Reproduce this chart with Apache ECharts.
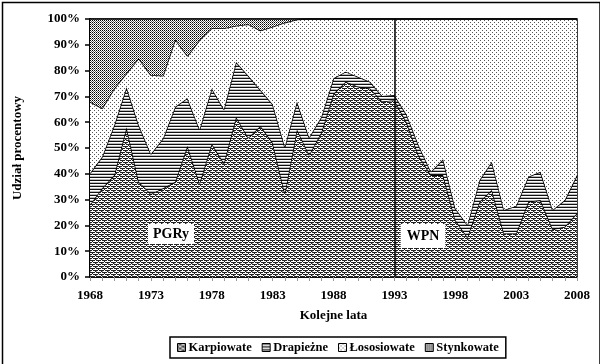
<!DOCTYPE html>
<html><head><meta charset="utf-8">
<script src="https://cdn.jsdelivr.net/npm/echarts@6/dist/echarts.min.js"></script>
<style>html,body{margin:0;padding:0;background:#fff}#c{width:600px;height:364px}</style>
</head><body><div id="c"></div>
<script>
const years = ['1968','1969','1970','1971','1972','1973','1974','1975','1976','1977',
  '1978','1979','1980','1981','1982','1983','1984','1985','1986','1987',
  '1988','1989','1990','1991','1992','1993','1994','1995','1996','1997',
  '1998','1999','2000','2001','2002','2003','2004','2005','2006','2007','2008'];
const karpiowate = [28,34.4,39.5,58,36.9,32.2,34.4,36.9,50.8,36.3,
  51.6,44.1,62,54,58.5,52,32.4,57.2,47.3,56,
  71,75.7,73.8,73.1,68,68.5,60,47,39.5,39.5,
  22.1,15.4,29.2,33.7,16.9,16.9,29.2,29.8,18.5,19.5,24.7];
const drapiezne = [12.2,12.2,19.4,15.5,22,15.5,19.3,29.1,18.5,20.9,
  21.5,20.9,21.3,24,14,15,18.1,10.8,6.8,6,
  6,3.9,3.8,2.6,2.2,2,3,4,1.3,6.1,
  4.5,4.8,8.4,11,9.1,10.6,9.7,11,7.5,10.3,14.8];
const lososiowate = [27.7,18.8,14.2,5.5,25.9,30.6,24.3,26.1,16.4,34.7,
  23.3,31.4,14.1,20,23,30,48.1,31.8,45.9,38,
  23,20.4,22.4,24.3,29.8,29.5,37,49,59.2,54.4,
  73.4,79.8,62.4,55.3,74,72.5,61.1,59.2,74,70.2,60.5];
const stynkowate = [32.1,34.6,26.9,21,15.2,21.7,22,7.9,14.3,8.1,
  3.6,3.6,2.6,2,4.5,3,1.4,0.2,0,0,
  0,0,0,0,0,0,0,0,0,0,
  0,0,0,0,0,0,0,0,0,0,0];
const seriesNames = ['Karpiowate','Drapieżne','Łososiowate','Stynkowate'];
const yTicks = [0,10,20,30,40,50,60,70,80,90,100];
const periodYear = '1993';
const periodLabels = ['PGRy','WPN'];

function pat(w,h,draw){
  const c=document.createElement('canvas');c.width=w;c.height=h;
  const g=c.getContext('2d');g.fillStyle='#fff';g.fillRect(0,0,w,h);draw(g);
  return {image:c,repeat:'repeat'};
}
const pKarp = pat(6,4,g=>{g.fillStyle='#222';g.fillRect(0,0,5,1);g.fillRect(3,2,3,1);g.fillRect(0,2,2,1);g.fillRect(2,1,1,1);g.fillRect(5,3,1,1);g.fillStyle='#999';g.fillRect(0,3,1,1);});
const pDrap = pat(1,3,g=>{g.fillStyle='#111';g.fillRect(0,0,1,1);g.fillStyle='#bbb';g.fillRect(0,2,1,1);});
const pLos = pat(4,4,g=>{g.fillStyle='#555';g.fillRect(0,0,1,1);g.fillRect(2,2,1,1);});
const pStyn = pat(4,2,g=>{g.fillStyle='#000';g.fillRect(0,0,1,1);g.fillRect(2,0,1,1);g.fillStyle='#666';g.fillRect(1,1,1,1);g.fillRect(3,1,1,1);});
const pats=[pKarp,pDrap,pLos,pStyn];
const vals=[karpiowate,drapiezne,lososiowate,stynkowate];

const font='"Liberation Serif", "Times New Roman", serif';
const chart=echarts.init(document.getElementById('c'),null,{renderer:'canvas'});
const series=seriesNames.map((n,i)=>({
  name:n,type:'line',stack:'total',data:vals[i],showSymbol:false,symbol:'none',
  color:pats[i],
  lineStyle:{color:'#000',width:1.6},
  areaStyle:{color:pats[i],opacity:1},
  emphasis:{disabled:true},z:2+i
}));
series[3].markLine={silent:true,symbol:['none','none'],label:{show:false},
  lineStyle:{color:'#000',width:1.5,type:'solid'},data:[{xAxis:periodYear}],z:10};
chart.setOption({
  animation:false,
  textStyle:{fontFamily:font,fontWeight:'bold',color:'#000'},
  grid:{left:90,right:23,top:19,bottom:87,show:true,borderColor:'#000',borderWidth:1.5,backgroundColor:'transparent'},
  legend:{data:seriesNames.map((n,i)=>({name:n,icon:'rect',itemStyle:{color:pats[i],borderColor:'#000',borderWidth:1}})),
    left:170,top:337,width:400,itemWidth:8,itemHeight:8,itemGap:10,padding:[4,7,4,7],
    borderColor:'#000',borderWidth:1.5,
    textStyle:{fontFamily:font,fontWeight:'bold',fontSize:12.5,color:'#000',padding:[0,0,0,-2]}},
  xAxis:{type:'category',data:years,boundaryGap:false,name:'Kolejne lata',nameLocation:'middle',nameGap:32,
    nameTextStyle:{fontFamily:font,fontWeight:'bold',fontSize:13,color:'#000'},
    axisLine:{lineStyle:{color:'#000',width:1.5}},
    axisTick:{show:true,interval:0,length:4,lineStyle:{color:'#999'}},
    axisLabel:{interval:4,margin:12,fontFamily:font,fontWeight:'bold',fontSize:13,color:'#000'},
    splitLine:{show:false}},
  yAxis:{type:'value',min:yTicks[0],max:yTicks[yTicks.length-1],interval:10,name:'Udział procentowy',nameLocation:'middle',nameGap:66,
    nameTextStyle:{fontFamily:font,fontWeight:'bold',fontSize:13,color:'#000'},
    axisLine:{show:true,lineStyle:{color:'#000',width:2}},
    axisTick:{show:true,length:5,lineStyle:{color:'#000',width:1.5}},
    axisLabel:{formatter:'{value}%',margin:10,fontFamily:font,fontWeight:'bold',fontSize:13,color:'#000'},
    splitLine:{show:false}},
  graphic:[
    {type:'rect',left:0,top:0,shape:{x:0.75,y:0.75,width:597.5,height:362.5},style:{fill:'none',stroke:'#000',lineWidth:1.5},silent:true},
    {type:'text',x:171,y:234,style:{text:periodLabels[0],font:'bold 14px '+font,fill:'#000',align:'center',verticalAlign:'middle',backgroundColor:'#fff',padding:[3,5]},z:100},
    {type:'text',x:423,y:236,style:{text:periodLabels[1],font:'bold 14px '+font,fill:'#000',align:'center',verticalAlign:'middle',backgroundColor:'#fff',padding:[5,6]},z:100}
  ],
  series:series
});
</script></body></html>
